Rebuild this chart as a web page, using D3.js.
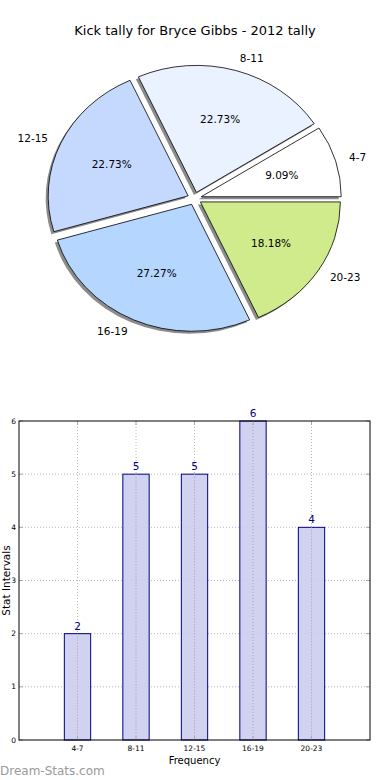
<!DOCTYPE html>
<html>
<head>
<meta charset="utf-8">
<script src="https://cdn.jsdelivr.net/npm/d3@7"></script>
<style>
  body { margin: 0; background: #fff; }
  svg { display: block; font-family: "DejaVu Sans", sans-serif; }
</style>
</head>
<body>
<div id="chart"></div>
<script>
// data
const categories = ["4-7", "8-11", "12-15", "16-19", "20-23"];
const counts = [2, 5, 5, 6, 4];
const sliceColors = ["#ffffff", "#eaf1ff", "#c5d9ff", "#b4d6ff", "#cfeb8b"];
const yTicks = [0, 1, 2, 3, 4, 5, 6];

const W = 390, H = 780;
const svg = d3.select("#chart").append("svg")
    .attr("width", W)
    .attr("height", H);

// ---- pie (elliptical, exploded, with shadow) ----
const cx = 194.5, cy = 198.5, rx = 140, ry = 127;
const explode = 0.05;

svg.append("text")
    .attr("x", 195)
    .attr("y", 35)
    .attr("text-anchor", "middle")
    .style("font-size", "13px")
    .text("Kick tally for Bryce Gibbs - 2012 tally");

// start at 3 o'clock and go counter-clockwise like matplotlib
const pie = d3.pie().sort(null)
    .startAngle(Math.PI / 2)
    .endAngle(Math.PI / 2 - 2 * Math.PI);
const arcs = pie(counts);
const unitArc = d3.arc().innerRadius(0).outerRadius(1);
const total = d3.sum(counts);

const pieG = svg.append("g").attr("transform", `translate(${cx},${cy}) scale(${rx},${ry})`);

// shadows first
pieG.selectAll("path.shadow")
    .data(arcs)
    .enter()
    .append("path")
    .attr("class", "shadow")
    .attr("d", unitArc)
    .attr("transform", function(d) {
        const a = (d.startAngle + d.endAngle) / 2;
        return `translate(${explode * Math.sin(a) - 2.5 / rx},${-explode * Math.cos(a) + 2.5 / ry})`;
    })
    .style("fill", "#8c8c8c");

pieG.selectAll("path.slice")
    .data(arcs)
    .enter()
    .append("path")
    .attr("class", "slice")
    .attr("d", unitArc)
    .attr("transform", function(d) {
        const a = (d.startAngle + d.endAngle) / 2;
        return `translate(${explode * Math.sin(a)},${-explode * Math.cos(a)})`;
    })
    .style("fill", (d, i) => sliceColors[i])
    .style("stroke", "#000")
    .style("stroke-width", 0.8)
    .attr("vector-effect", "non-scaling-stroke");

// labels outside (1.1) and percentages inside (0.6)
arcs.forEach(function(d, i) {
    const a = (d.startAngle + d.endAngle) / 2;
    const sx = cx + explode * rx * Math.sin(a);
    const sy = cy - explode * ry * Math.cos(a);
    svg.append("text")
        .attr("x", sx + 1.1 * rx * Math.sin(a))
        .attr("y", sy - 1.1 * ry * Math.cos(a))
        .attr("dy", "0.35em")
        .attr("text-anchor", Math.sin(a) > 0 ? "start" : "end")
        .style("font-size", "10.5px")
        .text(categories[i]);
    svg.append("text")
        .attr("x", sx + 0.6 * rx * Math.sin(a))
        .attr("y", sy - 0.6 * ry * Math.cos(a))
        .attr("dy", "0.35em")
        .attr("text-anchor", "middle")
        .style("font-size", "10.5px")
        .text(d3.format(".2f")(counts[i] / total * 100) + "%");
});

// ---- bar chart ----
const plotL = 19, plotR = 370, plotT = 421, plotB = 740;
const x = d3.scaleLinear([0, 6], [plotL, plotR]);
const y = d3.scaleLinear([0, 6], [plotB, plotT]);
const barW = 0.45;

// dotted grid
svg.selectAll("line.hgrid")
    .data(yTicks.slice(1, -1))
    .enter()
    .append("line")
    .attr("x1", plotL).attr("x2", plotR)
    .attr("y1", d => y(d)).attr("y2", d => y(d))
    .style("stroke", "#b8b8b8")
    .style("stroke-dasharray", "1,2");

svg.selectAll("line.vgrid")
    .data(categories)
    .enter()
    .append("line")
    .attr("x1", (d, i) => x(i + 1)).attr("x2", (d, i) => x(i + 1))
    .attr("y1", plotT).attr("y2", plotB)
    .style("stroke", "#b8b8b8")
    .style("stroke-dasharray", "1,2");

svg.selectAll("rect.bar")
    .data(counts)
    .enter()
    .append("rect")
    .attr("x", (d, i) => x(i + 1 - barW / 2))
    .attr("y", d => y(d))
    .attr("width", x(barW) - x(0))
    .attr("height", d => y(0) - y(d))
    .style("fill", "#ccccee")
    .style("fill-opacity", 0.9)
    .style("stroke", "#000080")
    .style("stroke-width", 1);

// grid again over the bars (matplotlib draws it on top here)
svg.selectAll("line.vgrid2")
    .data(counts)
    .enter()
    .append("line")
    .attr("x1", (d, i) => x(i + 1)).attr("x2", (d, i) => x(i + 1))
    .attr("y1", d => y(d)).attr("y2", plotB)
    .style("stroke", "#a8a8b8")
    .style("stroke-dasharray", "1,2");

svg.selectAll("text.val")
    .data(counts)
    .enter()
    .append("text")
    .attr("x", (d, i) => x(i + 1))
    .attr("y", d => y(d) - 4)
    .attr("text-anchor", "middle")
    .style("font-size", "10.5px")
    .style("fill", "#000080")
    .text(d => d);

// inside tick marks on all sides
yTicks.forEach(function(t) {
    svg.append("line").attr("x1", plotL).attr("x2", plotL + 4).attr("y1", y(t)).attr("y2", y(t))
        .style("stroke", "#aaa");
    svg.append("line").attr("x1", plotR - 4).attr("x2", plotR).attr("y1", y(t)).attr("y2", y(t))
        .style("stroke", "#aaa");
});
categories.forEach(function(c, i) {
    svg.append("line").attr("x1", x(i + 1)).attr("x2", x(i + 1)).attr("y1", plotT).attr("y2", plotT + 4)
        .style("stroke", "#aaa");
    svg.append("line").attr("x1", x(i + 1)).attr("x2", x(i + 1)).attr("y1", plotB - 4).attr("y2", plotB)
        .style("stroke", "#aaa");
});

// frame
svg.append("rect")
    .attr("x", plotL).attr("y", plotT)
    .attr("width", plotR - plotL).attr("height", plotB - plotT)
    .style("fill", "none")
    .style("stroke", "#000")
    .style("stroke-width", 1);

// tick labels
svg.selectAll("text.ytick")
    .data(yTicks)
    .enter()
    .append("text")
    .attr("x", plotL - 3)
    .attr("y", d => y(d))
    .attr("dy", "0.35em")
    .attr("text-anchor", "end")
    .style("font-size", "7.5px")
    .text(d => d);

svg.selectAll("text.xtick")
    .data(categories)
    .enter()
    .append("text")
    .attr("x", (d, i) => x(i + 1))
    .attr("y", plotB + 11)
    .attr("text-anchor", "middle")
    .style("font-size", "7.5px")
    .text(d => d);

svg.append("text")
    .attr("x", (plotL + plotR) / 2)
    .attr("y", 764)
    .attr("text-anchor", "middle")
    .style("font-size", "10px")
    .text("Frequency");

svg.append("text")
    .attr("transform", `translate(10,${(plotT + plotB) / 2}) rotate(-90)`)
    .attr("text-anchor", "middle")
    .style("font-size", "10.5px")
    .text("Stat Intervals");

// watermark
svg.append("text")
    .attr("x", 0)
    .attr("y", 775)
    .style("font-size", "12px")
    .style("fill", "#9a9a9a")
    .text("Dream-Stats.com");
</script>
</body>
</html>
